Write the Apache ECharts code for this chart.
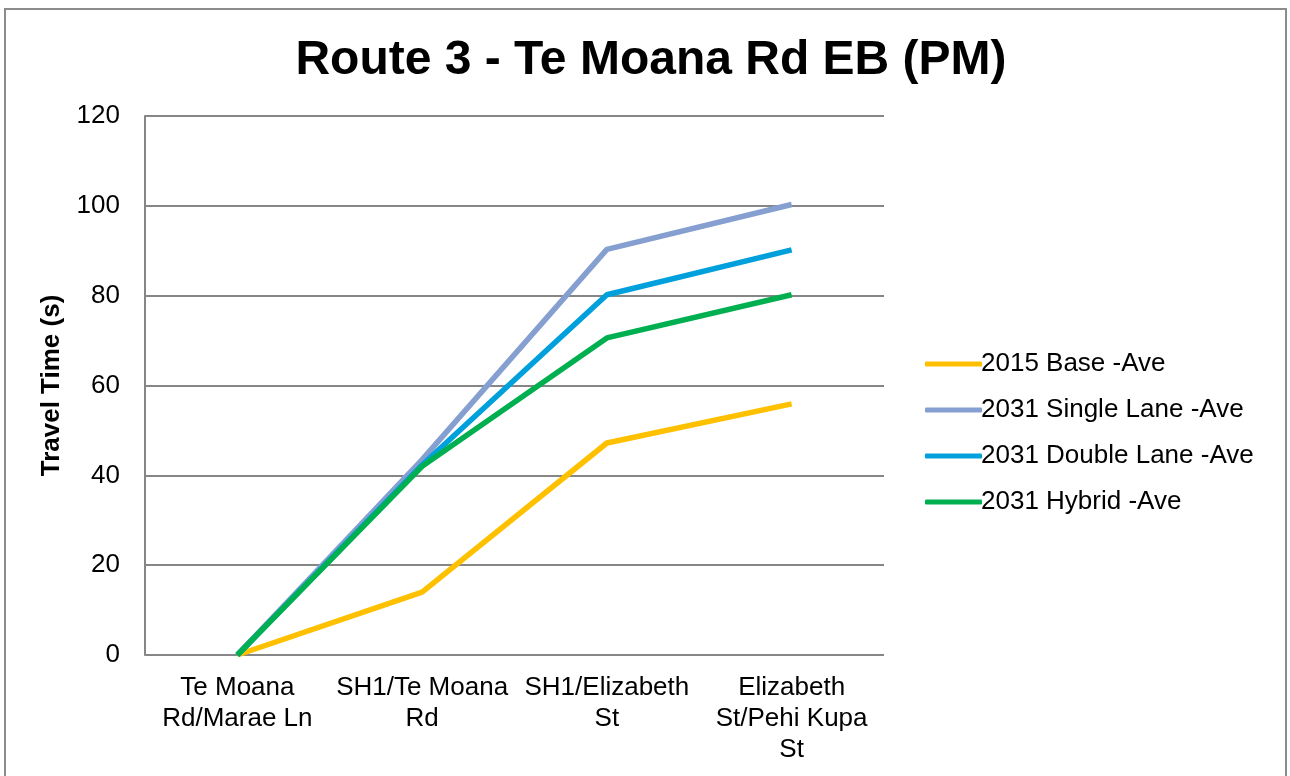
<!DOCTYPE html>
<html>
<head>
<meta charset="utf-8">
<script src="https://cdn.jsdelivr.net/npm/echarts@6/dist/echarts.min.js"></script>
<style>
html, body { margin: 0; padding: 0; background: #fff; }
#frame { position: absolute; left: 4px; top: 8px; width: 1283px; height: 780px; border: 2px solid #8c8c8c; box-sizing: border-box; }
#chart { position: absolute; left: 0; top: 0; width: 1290px; height: 776px; }
</style>
</head>
<body>
<div id="frame"></div>
<div id="chart"></div>
<script>
// categories and travel times (s)
var stops = ['Te Moana\nRd/Marae Ln', 'SH1/Te Moana\nRd', 'SH1/Elizabeth\nSt', 'Elizabeth\nSt/Pehi Kupa\nSt'];
var base2015 = [0, 14, 47.2, 55.9];
var single2031 = [0, 43.5, 90.3, 100.3];
var double2031 = [0, 42.3, 80.2, 90.2];
var hybrid2031 = [0, 42, 70.6, 80.2];
var seriesNames = ['2015 Base -Ave', '2031 Single Lane -Ave', '2031 Double Lane -Ave', '2031 Hybrid -Ave'];
var colors = ['#FFC000', '#849FD0', '#00A0DC', '#00B050'];

var chart = echarts.init(document.getElementById('chart'));
var font = 'Liberation Sans, Arial, sans-serif';

function line(name, data, color) {
	return {
		name: name,
		type: 'line',
		data: data,
		symbol: 'none',
		color: color,
		lineStyle: { width: 5.5, color: color },
		animation: false
	};
}

chart.setOption({
	backgroundColor: 'transparent',
	title: {
		text: 'Route 3 - Te Moana Rd EB (PM)',
		left: 646,
		top: 32,
		textAlign: 'center',
		textStyle: { fontFamily: font, fontSize: 48, fontWeight: 'bold', color: '#000' }
	},
	legend: {
		orient: 'vertical',
		left: 920,
		top: 346,
		itemWidth: 57,
		itemHeight: 5,
		itemGap: 20,
		icon: 'roundRect',
		textStyle: { fontFamily: font, fontSize: 26, lineHeight: 26, color: '#000', padding: [0, 0, 0, -6] },
		data: seriesNames
	},
	grid: { left: 145, top: 116, width: 739, height: 539 },
	xAxis: {
		type: 'category',
		data: stops,
		boundaryGap: true,
		axisLine: { show: false },
		axisTick: { show: false },
		axisLabel: { fontFamily: font, fontSize: 26, color: '#000', lineHeight: 31, margin: 17, interval: 0 }
	},
	yAxis: {
		type: 'value',
		min: 0,
		max: 120,
		interval: 20,
		name: 'Travel Time (s)',
		nameLocation: 'middle',
		nameGap: 80,
		nameTextStyle: { fontFamily: font, fontSize: 26, fontWeight: 'bold', color: '#000' },
		axisLine: { show: true, lineStyle: { color: '#868686', width: 2 } },
		axisTick: { show: false },
		axisLabel: { fontFamily: font, fontSize: 26, color: '#000', margin: 25 },
		splitLine: { lineStyle: { color: '#868686', width: 2 } }
	},
	series: [
		line(seriesNames[0], base2015, colors[0]),
		line(seriesNames[1], single2031, colors[1]),
		line(seriesNames[2], double2031, colors[2]),
		line(seriesNames[3], hybrid2031, colors[3])
	]
});
</script>
</body>
</html>
